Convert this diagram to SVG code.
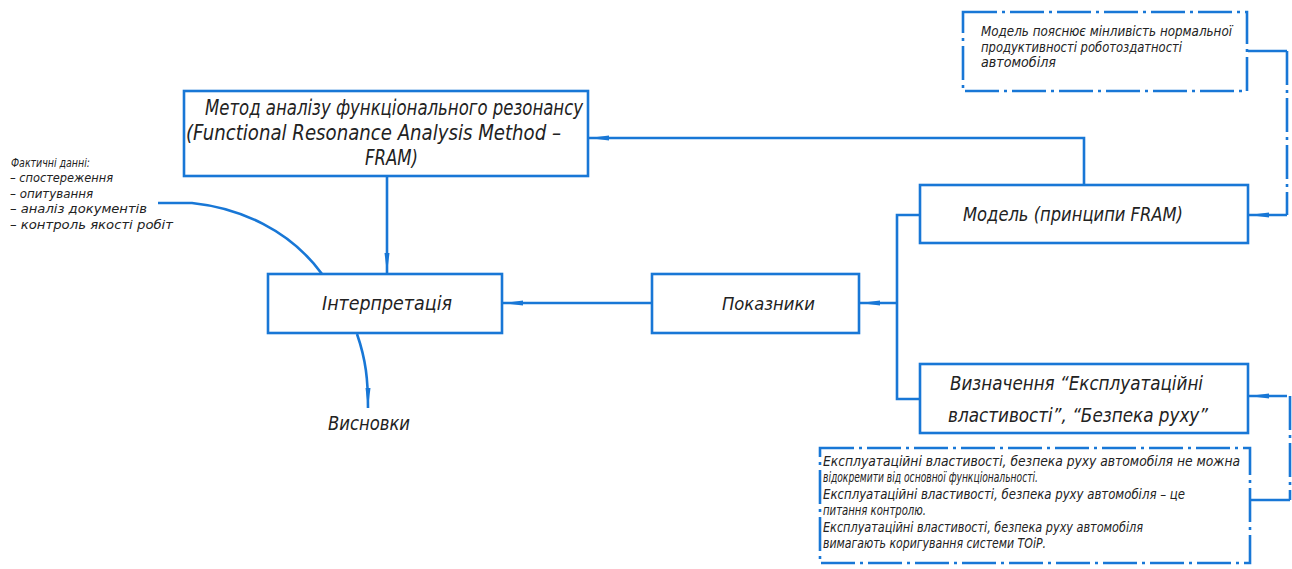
<svg xmlns="http://www.w3.org/2000/svg" width="1292" height="569" viewBox="0 0 1292 569">
<defs>
<style>
.box{fill:#fff;stroke:#1877d6;stroke-width:2.6}
.dbox{fill:#fff;stroke:#1877d6;stroke-width:2.6;stroke-dasharray:34 5 3 5}
.ln{fill:none;stroke:#1877d6;stroke-width:2.6}
.dln{fill:none;stroke:#1877d6;stroke-width:2.6;stroke-dasharray:34 5 3 5}
.t{font-family:"Liberation Sans Narrow","DejaVu Sans Condensed","Liberation Sans",sans-serif;font-style:italic;fill:#222}
</style>
<marker id="ah" viewBox="0 0 20 7" refX="20" refY="3.5" markerWidth="20" markerHeight="7" markerUnits="userSpaceOnUse" orient="auto">
<path d="M0,1 L20,3.5 L0,6 Z" fill="#1877d6"/>
</marker>
</defs>
<rect width="1292" height="569" fill="#fff"/>
<g id="connectors">
<path class="ln" d="M1084,185 V138 H589" marker-end="url(#ah)"/>
<path class="ln" d="M387,177 V273" marker-end="url(#ah)"/>
<path class="ln" d="M158,203 H192 C240,208 290,230 322,274"/>
<path class="ln" d="M357,334 C366,360 368,380 368,408" marker-end="url(#ah)"/>
<path class="ln" d="M651,303 H503" marker-end="url(#ah)"/>
<path class="ln" d="M920,215 H897 V399 H920"/>
<path class="ln" d="M897,303 H860" marker-end="url(#ah)"/>
<path class="ln" d="M1248,51 H1287"/>
<path class="dln" d="M1287,51 V215"/>
<path class="ln" d="M1287,215 H1249" marker-end="url(#ah)"/>
<path class="ln" d="M1287,396 H1249" marker-end="url(#ah)"/>
<path class="dln" d="M1290,396 V500"/>
<path class="ln" d="M1290,500 H1251"/>
</g>
<g id="n-model-note">
<rect class="dbox" x="963" y="12" width="284" height="79"/>
<text class="t" font-size="13.5" x="981" y="36" textLength="251" lengthAdjust="spacingAndGlyphs">Модель пояснює мінливість нормальної</text>
<text class="t" font-size="13.5" x="981" y="52" textLength="201" lengthAdjust="spacingAndGlyphs">продуктивності роботоздатності</text>
<text class="t" font-size="13.5" x="981" y="67" textLength="75" lengthAdjust="spacingAndGlyphs">автомобіля</text>
</g>
<g id="n-method">
<rect class="box" x="184" y="91" width="404" height="85"/>
<text class="t" font-size="21" x="205" y="115" textLength="378" lengthAdjust="spacingAndGlyphs">Метод аналізу функціонального резонансу</text>
<text class="t" font-size="21" x="186" y="140" textLength="375" lengthAdjust="spacingAndGlyphs">(Functional Resonance Analysis Method –</text>
<text class="t" font-size="21" x="365" y="165" textLength="53" lengthAdjust="spacingAndGlyphs">FRAM)</text>
</g>
<g id="n-facts">
<text class="t" font-size="13" x="11" y="167" textLength="79" lengthAdjust="spacingAndGlyphs">Фактичні данні:</text>
<text class="t" font-size="13" x="10" y="182" textLength="103" lengthAdjust="spacingAndGlyphs">– спостереження</text>
<text class="t" font-size="13" x="10" y="198" textLength="83" lengthAdjust="spacingAndGlyphs">– опитування</text>
<text class="t" font-size="13" x="10" y="213" textLength="137" lengthAdjust="spacingAndGlyphs">– аналіз документів</text>
<text class="t" font-size="13" x="10" y="229" textLength="163" lengthAdjust="spacingAndGlyphs">– контроль якості робіт</text>
</g>
<g id="n-interp">
<rect class="box" x="268" y="274" width="234" height="59"/>
<text class="t" font-size="19" x="322" y="310" textLength="130" lengthAdjust="spacingAndGlyphs">Інтерпретація</text>
</g>
<g id="n-conclusions">
<text class="t" font-size="19" x="328" y="430" textLength="82" lengthAdjust="spacingAndGlyphs">Висновки</text>
</g>
<g id="n-indicators">
<rect class="box" x="652" y="274" width="207" height="59"/>
<text class="t" font-size="18" x="722" y="310" textLength="93" lengthAdjust="spacingAndGlyphs">Показники</text>
</g>
<g id="n-model">
<rect class="box" x="920" y="185" width="328" height="58"/>
<text class="t" font-size="19" x="963" y="221" textLength="220" lengthAdjust="spacingAndGlyphs">Модель (принципи FRAM)</text>
</g>
<g id="n-definition">
<rect class="box" x="920" y="364" width="328" height="69"/>
<text class="t" font-size="19" x="950" y="390" textLength="253" lengthAdjust="spacingAndGlyphs">Визначення “Експлуатаційні</text>
<text class="t" font-size="19" x="948" y="422" textLength="260" lengthAdjust="spacingAndGlyphs">властивості”, “Безпека руху”</text>
</g>
<g id="n-definition-note">
<rect class="dbox" x="820" y="448" width="430" height="115"/>
<text class="t" font-size="13.5" x="823" y="466" textLength="417" lengthAdjust="spacingAndGlyphs">Експлуатаційні властивості, безпека руху автомобіля не можна</text>
<text class="t" font-size="13.5" x="823" y="482" textLength="215" lengthAdjust="spacingAndGlyphs">відокремити від основної функціональності.</text>
<text class="t" font-size="13.5" x="823" y="499" textLength="362" lengthAdjust="spacingAndGlyphs">Експлуатаційні властивості, безпека руху автомобіля  – це</text>
<text class="t" font-size="13.5" x="823" y="515" textLength="103" lengthAdjust="spacingAndGlyphs">питання контролю.</text>
<text class="t" font-size="13.5" x="823" y="532" textLength="320" lengthAdjust="spacingAndGlyphs">Експлуатаційні властивості, безпека руху автомобіля</text>
<text class="t" font-size="13.5" x="823" y="548" textLength="223" lengthAdjust="spacingAndGlyphs">вимагають коригування системи ТОіР.</text>
</g>
</svg>
